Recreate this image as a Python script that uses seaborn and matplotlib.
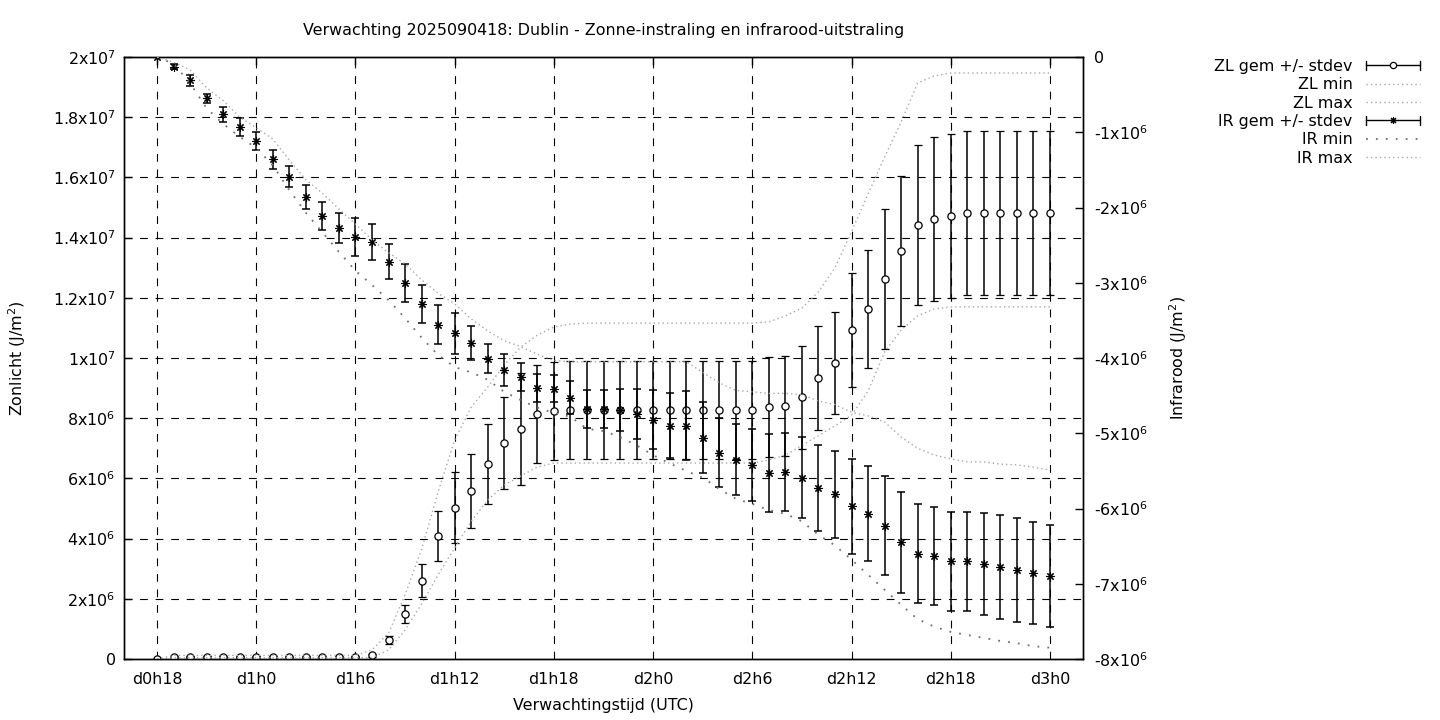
import numpy as np
import pandas as pd
import matplotlib
matplotlib.use("Agg")
import matplotlib.pyplot as plt
import seaborn as sns
from matplotlib.lines import Line2D
from matplotlib.legend_handler import HandlerBase
from matplotlib.ticker import FuncFormatter

sns.set_style("white")
plt.rcParams['font.family'] = ['DejaVu Sans']
for k in ('text.color', 'axes.labelcolor', 'xtick.color', 'ytick.color'):
    plt.rcParams[k] = 'black'

# forecast hours since d0h0 (one point per hour)
hours = list(range(18, 73))

# sunlight (J/m2), units of 1e6
zl_mean = [0.0] + [0.08] * 12 + [
    0.13, 0.63, 1.50, 2.60, 4.08, 5.03, 5.58, 6.48, 7.17, 7.64, 8.14, 8.24,
] + [8.27] * 12 + [
    8.37, 8.40, 8.70, 9.33, 9.83, 10.93, 11.63, 12.62, 13.55, 14.42, 14.62, 14.72,
] + [14.81] * 6
zl_std = [0.0] + [0.02] * 12 + [
    0.05, 0.14, 0.31, 0.55, 0.84, 1.17, 1.22, 1.33, 1.53, 1.86, 1.62, 1.64,
] + [1.63] * 12 + [
    1.67, 1.67, 1.71, 1.73, 1.70, 1.88, 1.96, 2.33, 2.50, 2.66, 2.72, 2.72,
] + [2.72] * 6
zl_min = [0.0] + [0.04] * 12 + [
    0.05, 0.30, 0.96, 1.83, 2.80, 3.69, 4.58, 5.28, 5.78, 6.08, 6.38, 6.51,
] + [6.51] * 12 + [
    6.61, 6.77, 7.10, 7.42, 7.75, 8.10, 8.90, 10.20, 10.93, 11.40, 11.63, 11.70,
] + [11.70] * 6
zl_max = [0.0] + [0.12] * 12 + [
    0.30, 0.86, 2.13, 3.65, 5.55, 7.28, 8.37, 9.04, 9.77, 10.37, 10.76, 11.03,
] + [11.13] + [11.16] * 11 + [
    11.20, 11.40, 11.66, 12.20, 13.00, 14.20, 15.45, 16.68, 17.84, 19.14, 19.37, 19.47,
] + [19.47] * 6

# infrared (J/m2), units of 1e6
ir_mean = [
    0.0, -0.13, -0.31, -0.55, -0.76, -0.93, -1.12, -1.36, -1.59, -1.86, -2.11, -2.27,
    -2.39, -2.46, -2.72, -3.00, -3.28, -3.56, -3.67, -3.80, -4.01, -4.16, -4.25, -4.40,
    -4.41, -4.53, -4.68, -4.68, -4.69, -4.74, -4.82, -4.90, -4.90, -5.06, -5.26, -5.35,
    -5.42, -5.53, -5.51, -5.59, -5.73, -5.81, -5.97, -6.07, -6.23, -6.45, -6.60, -6.63,
    -6.70, -6.70, -6.74, -6.78, -6.82, -6.86, -6.90,
]
ir_std = [
    0.0, 0.035, 0.07, 0.06, 0.10, 0.12, 0.12, 0.13, 0.14, 0.16, 0.19, 0.20,
    0.25, 0.24, 0.23, 0.25, 0.25, 0.26, 0.27, 0.22, 0.19, 0.21, 0.19, 0.19,
    0.18, 0.22, 0.25, 0.25, 0.28, 0.33, 0.39, 0.43, 0.46, 0.47, 0.46, 0.47,
    0.48, 0.52, 0.52, 0.54, 0.57, 0.58, 0.63, 0.63, 0.66, 0.67, 0.66, 0.65,
    0.66, 0.66, 0.68, 0.69, 0.69, 0.68, 0.68,
]
ir_min = [
    0.0, -0.09, -0.35, -0.68, -0.89, -1.06, -1.21, -1.44, -1.77, -2.07, -2.33, -2.59,
    -2.84, -3.03, -3.23, -3.47, -3.73, -3.96, -4.12, -4.19, -4.29, -4.45, -4.56, -4.66,
    -4.73, -4.78, -4.94, -4.97, -5.05, -5.16, -5.29, -5.40, -5.50, -5.59, -5.74, -5.87,
    -5.94, -6.02, -6.07, -6.17, -6.35, -6.49, -6.68, -6.88, -7.08, -7.28, -7.47, -7.57,
    -7.64, -7.68, -7.72, -7.76, -7.79, -7.83, -7.85,
]
ir_max = [
    0.0, -0.07, -0.17, -0.41, -0.58, -0.80, -0.94, -1.09, -1.37, -1.63, -1.81, -2.02,
    -2.22, -2.43, -2.60, -2.75, -2.96, -3.14, -3.28, -3.48, -3.64, -3.77, -3.85, -3.95,
    -4.03, -4.05, -4.05, -4.05, -4.05, -4.05, -4.05, -4.05, -4.05, -4.19, -4.33, -4.43,
    -4.45, -4.47, -4.47, -4.49, -4.57, -4.62, -4.72, -4.77, -4.85, -5.05, -5.20, -5.29,
    -5.34, -5.38, -5.38, -5.41, -5.42, -5.45, -5.49,
]

xtick_pos = [18, 24, 30, 36, 42, 48, 54, 60, 66, 72]
xtick_labels = ["d0h18", "d1h0", "d1h6", "d1h12", "d1h18",
                "d2h0", "d2h6", "d2h12", "d2h18", "d3h0"]

title = "Verwachting 2025090418: Dublin - Zonne-instraling en infrarood-uitstraling"

df = pd.DataFrame({
    "uur": hours,
    "zl_mean": np.array(zl_mean) * 1e6, "zl_std": np.array(zl_std) * 1e6,
    "zl_min": np.array(zl_min) * 1e6, "zl_max": np.array(zl_max) * 1e6,
    "ir_mean": np.array(ir_mean) * 1e6, "ir_std": np.array(ir_std) * 1e6,
    "ir_min": np.array(ir_min) * 1e6, "ir_max": np.array(ir_max) * 1e6,
})


def sci_label(v, pos=None):
    if v == 0:
        return "0"
    e = int(np.floor(np.log10(abs(v)) + 1e-9))
    m = v / 10 ** e
    return "%gx10$^{%d}$" % (round(m, 1), e)


class CapHandler(HandlerBase):
    """gnuplot style legend sample: |---o---|"""
    def __init__(self, marker, ms, mfc, mew):
        super().__init__()
        self.marker, self.ms, self.mfc, self.mew = marker, ms, mfc, mew

    def create_artists(self, legend, orig_handle, xdescent, ydescent,
                       width, height, fontsize, trans):
        y = height / 2 - ydescent
        x0, x1 = -xdescent, width - xdescent
        c = 3.0
        line = Line2D([x0, x1], [y, y], color="black", lw=1.0)
        caps = Line2D([x0, x0, np.nan, x1, x1], [y - c, y + c, np.nan, y - c, y + c],
                      color="black", lw=1.0)
        mk = Line2D([(x0 + x1) / 2], [y], marker=self.marker, ms=self.ms,
                    mfc=self.mfc, mec="black", mew=self.mew, color="black", lw=0)
        for a in (line, caps, mk):
            a.set_transform(trans)
        return [line, caps, mk]


FS = 11.4
light = dict(color="#a8a8a8", lw=1.0, linestyle=(0, (1, 2.2)))
dark = dict(color="#707070", lw=1.3, linestyle=(0, (1, 4.5)))
grid_kw = dict(color="black", lw=0.8, linestyle=(0, (7, 7)))

fig = plt.figure(figsize=(14.4, 7.2), dpi=100)
ax = fig.add_subplot(111)
fig.subplots_adjust(left=0.0861, right=0.7521, bottom=0.0847, top=0.9208)
ax2 = ax.twinx()

# ZL on left axis
ax.errorbar(df["uur"], df["zl_mean"], yerr=df["zl_std"], fmt="o", ms=5.2,
            mfc="white", mec="black", mew=0.9, ecolor="black", elinewidth=1.1,
            capsize=2.6, capthick=1.1, zorder=3)
sns.lineplot(data=df, x="uur", y="zl_min", ax=ax, estimator=None, legend=False, zorder=4, **light)
sns.lineplot(data=df, x="uur", y="zl_max", ax=ax, estimator=None, legend=False, zorder=4, **light)

# IR on right axis
ast = (8, 2, 0)
ax2.errorbar(df["uur"], df["ir_mean"], yerr=df["ir_std"], fmt="none",
             ecolor="black", elinewidth=1.1, capsize=2.6, capthick=1.1, zorder=3)
ax2.plot(df["uur"], df["ir_mean"], ls="none", marker=ast, ms=6.0, color="black",
         mew=0.8, zorder=4)
sns.lineplot(data=df, x="uur", y="ir_min", ax=ax2, estimator=None, legend=False, zorder=5, **dark)
sns.lineplot(data=df, x="uur", y="ir_max", ax=ax2, estimator=None, legend=False, zorder=5, **light)

# axes
ax.set_xlim(16, 74)
ax.set_ylim(0, 2e7)
ax2.set_ylim(-8e6, 0)
ax.set_xticks(xtick_pos)
ax.set_xticklabels(xtick_labels)
ax.set_yticks(np.arange(0, 2.0e7 + 1, 2e6))
ax2.set_yticks(np.arange(-8e6, 1, 1e6))
ax.yaxis.set_major_formatter(FuncFormatter(sci_label))
ax2.yaxis.set_major_formatter(FuncFormatter(sci_label))

for xv in xtick_pos:
    ax.axvline(xv, zorder=1, **grid_kw)
for yv in np.arange(2e6, 2.0e7, 2e6):
    ax.axhline(yv, zorder=1, **grid_kw)

ax.tick_params(axis="x", direction="in", length=6, width=1, pad=9, labelsize=FS, top=True)
ax.tick_params(axis="y", direction="in", length=6, width=1, pad=6, labelsize=FS)
ax2.tick_params(axis="y", direction="in", length=6, width=1, pad=8, labelsize=FS)
for a in (ax, ax2):
    for s in a.spines.values():
        s.set_color("black")
        s.set_linewidth(1.0)

ax.set_xlabel("Verwachtingstijd (UTC)", fontsize=FS, labelpad=8)
ax.set_ylabel("Zonlicht (J/m$^2$)", fontsize=FS, labelpad=18)
ax2.set_ylabel("Infrarood (J/m$^2$)", fontsize=FS, labelpad=14)
ax.set_title(title, fontsize=FS, pad=16)

# legend (right aligned labels, sample on the right like gnuplot)
h_zl = Line2D([], [], color="black")
h_ir = Line2D([], [], color="black", label="x")
h_zlmin = Line2D([], [], **light)
h_zlmax = Line2D([], [], **light)
h_irmin = Line2D([], [], **dark)
h_irmax = Line2D([], [], **light)
handles = [h_zl, h_zlmin, h_zlmax, h_ir, h_irmin, h_irmax]
labels = ["ZL gem +/- stdev", "ZL min", "ZL max", "IR gem +/- stdev", "IR min", "IR max"]
fig.legend(handles, labels, loc="upper right", bbox_to_anchor=(1420 / 1440, 1 - 59 / 720),
           frameon=False, markerfirst=False, fontsize=FS, handlelength=3.4,
           handletextpad=0.85, labelspacing=0.21, borderpad=0, borderaxespad=0,
           handler_map={h_zl: CapHandler("o", 4.5, "white", 0.9),
                        h_ir: CapHandler(ast, 5.0, "black", 0.8)})

fig.savefig("out.png", dpi=100, facecolor="white")
